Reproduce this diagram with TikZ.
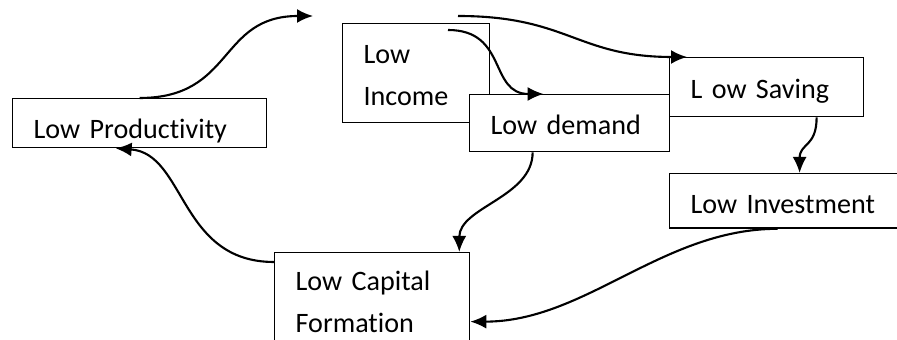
\documentclass[tikz,border=0pt]{standalone}
\usepackage{fontspec}
\setmainfont{Carlito}[Ligatures=NoCommon]
\usetikzlibrary{arrows.meta}
\begin{document}
\begin{tikzpicture}[x=0.02cm,y=-0.02cm,>={Latex[length=0.32cm,width=0.28cm]},
    box/.style={rectangle,draw,line width=0.75pt,anchor=north west,align=left,
      inner xsep=0.42cm,inner ysep=0pt,text height=0.79cm,
      font=\fontsize{16}{24}\selectfont},
    link/.style={->,line width=1.2pt}]
    \useasboundingbox (0,0) rectangle (897,340);
    % boxes
    \node[box,text width=4.24cm,text depth=0.19cm] (prod) at (12,98) {Low Productivity};
    \node[box,text width=2.10cm,text depth=1.19cm] (income) at (342,23) {Low\\Income};
    \node[box,fill=white,text width=3.16cm,text depth=0.35cm] (demand) at (469,94) {Low demand};
    \node[box,text width=3.04cm,text depth=0.36cm,text height=0.82cm] (saving) at (669,57) {L ow Saving};
    \node[box,text width=3.88cm,text depth=0.30cm] (invest) at (669,173) {Low Investment};
    \node[box,text width=3.06cm,text depth=1.16cm,text height=0.76cm] (capital) at (274,252) {Low Capital\\Formation};
    % loose ends
    \coordinate (gap) at (313,16);
    \coordinate (from) at (458,16);
    \coordinate (inside) at (448,30);
    % arrows
    \draw[link] (prod.north) .. controls +(95,0) and +(-95,0) .. (gap);
    \draw[link] (from) .. controls +(110,0) and +(-110,0) .. ([xshift=0.36cm]saving.north west);
    \draw[link] (inside) .. controls +(60,0) and +(-55,0) .. ([xshift=-0.52cm]demand.north);
    \draw[link] ([xshift=1cm]saving.south) .. controls +(0,30) and +(0,-30) .. ([xshift=0.24cm]invest.north);
    \draw[link] ([xshift=-0.74cm]demand.south) .. controls +(0,45) and +(0,-45) .. ([xshift=-0.22cm]capital.north east);
    \draw[link] ([xshift=-0.2cm]invest.south) .. controls +(-115,0) and +(115,0) .. ([yshift=-0.42cm]capital.east);
    \draw[link] ([yshift=-0.2cm]capital.north west) .. controls +(-95,0) and +(70,5) .. ([xshift=-0.48cm]prod.south);
  \end{tikzpicture}
\end{document}
